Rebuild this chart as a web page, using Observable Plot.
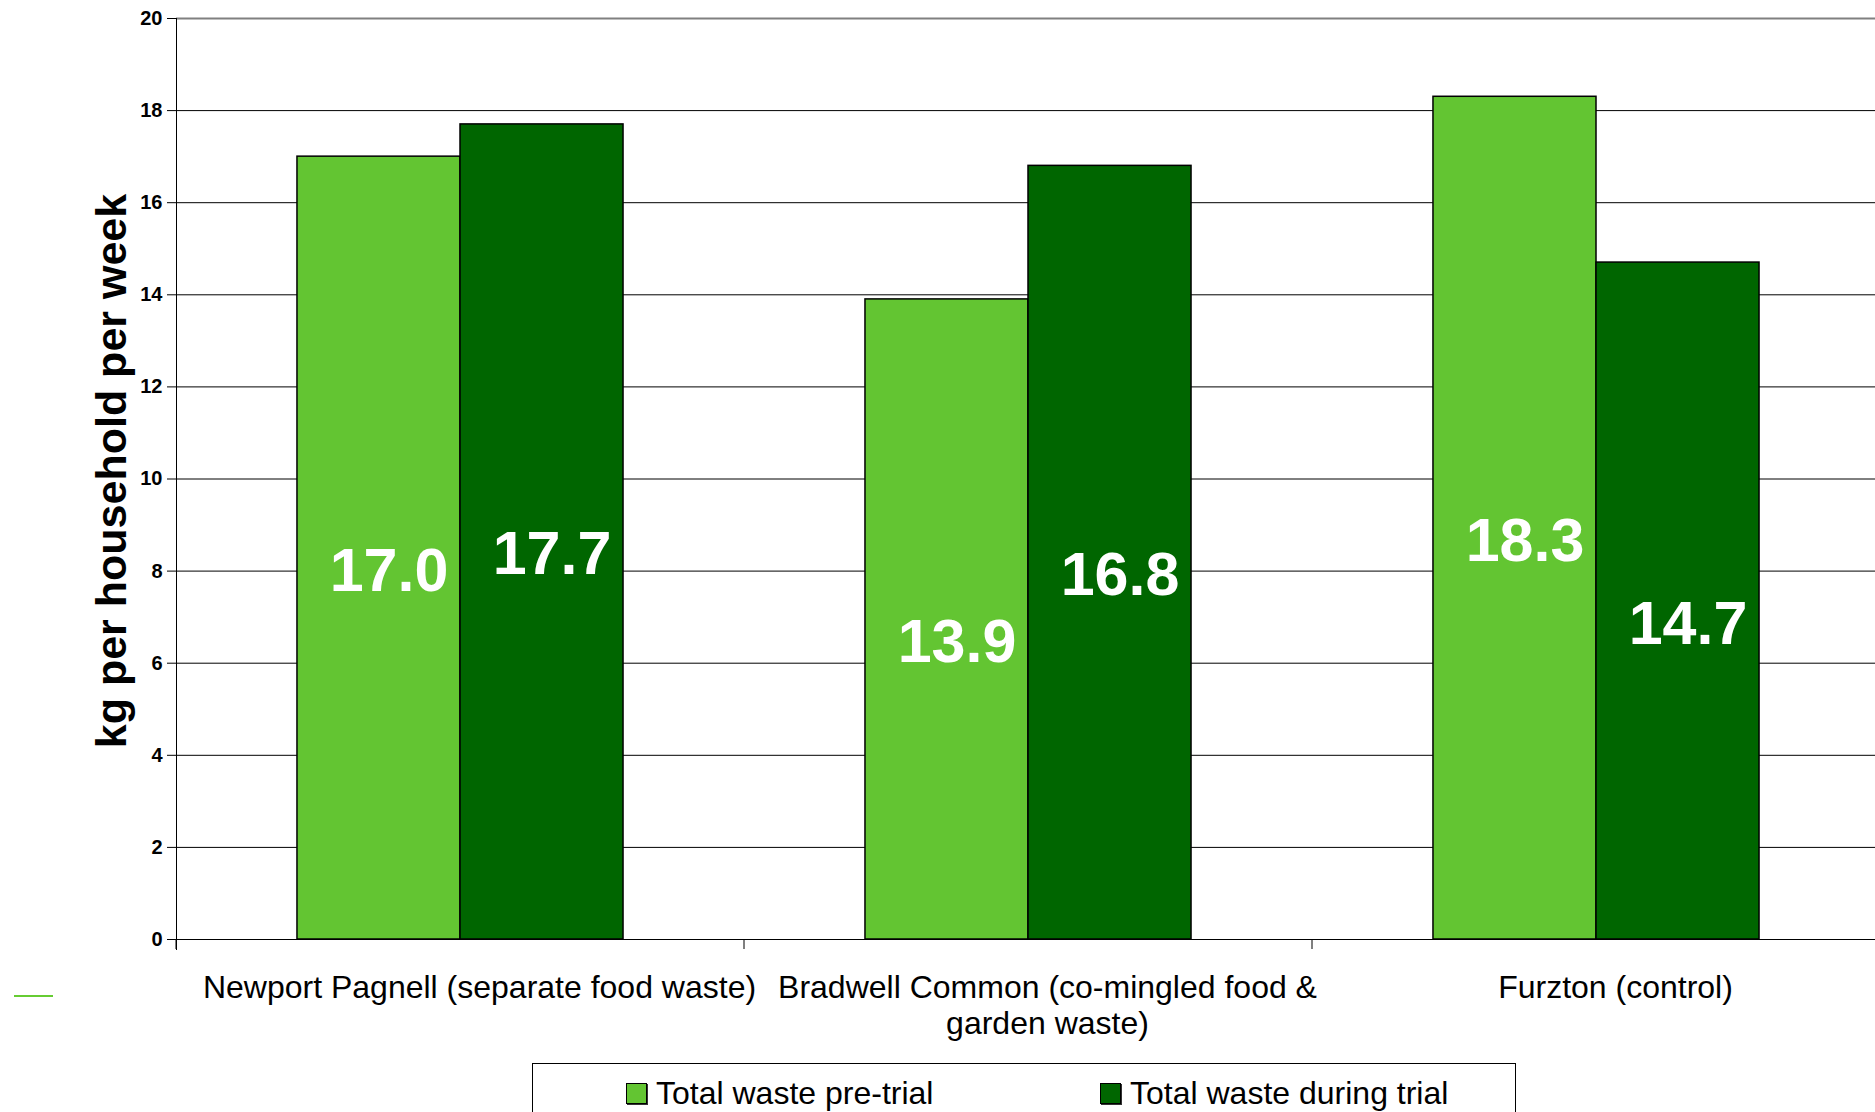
<!DOCTYPE html>
<html><head><meta charset="utf-8">
<script src="https://cdn.jsdelivr.net/npm/d3@7"></script>
<script src="https://cdn.jsdelivr.net/npm/@observablehq/plot@0.6"></script>
<style>
body{margin:0;background:#fff;font-family:"Liberation Sans",Arial,sans-serif;overflow:hidden;width:1875px;height:1112px;position:relative}
#chart{position:absolute;left:0;top:0}
#ytitle{position:absolute;left:111px;top:471px;transform:translate(-50%,-50%) rotate(-90deg);font-size:43px;font-weight:bold;line-height:1;white-space:nowrap;color:#000}
#legend{position:absolute;left:532px;top:1063px;width:984px;height:80px;border:1px solid #000;box-sizing:border-box;background:#fff}
.item{position:absolute;top:17px;display:flex;align-items:center;gap:9px;font-size:32px;line-height:24px;color:#000;white-space:nowrap}
.sw{width:19px;height:19px;border:1px solid #000;box-shadow:1px 1px 0 #333}
#stray{position:absolute;left:14px;top:995px;width:39px;height:2px;background:#66cc33}
</style></head>
<body>
<div id="chart"></div>
<div id="ytitle"></div>
<div id="legend"></div>
<div id="stray"></div>
<script>
const categories = ["Newport Pagnell (separate food waste)", "Bradwell Common (co-mingled food & garden waste)", "Furzton (control)"];
const categoryLabels = ["Newport Pagnell (separate food waste)", "Bradwell Common (co-mingled food &\ngarden waste)", "Furzton (control)"];
const series = ["Total waste pre-trial", "Total waste during trial"];
const preTrial = [17.0, 13.9, 18.3];
const duringTrial = [17.7, 16.8, 14.7];
const yTicks = [0, 2, 4, 6, 8, 10, 12, 14, 16, 18, 20];
const gridTicks = [2, 4, 6, 8, 10, 12, 14, 16, 18];
const yTitle = "kg per household per week";
const colors = ["#63c532", "#006600"];

const data = categories.flatMap((c, i) => [
  {cat: c, series: series[0], value: preTrial[i]},
  {cat: c, series: series[1], value: duringTrial[i]}
]);

const boundaryTicks = (index, scales, values, dims) => {
  const g = d3.create("svg:g");
  const y0 = scales.y(0);
  g.append("line").attr("x1", dims.marginLeft).attr("x2", dims.marginLeft)
    .attr("y1", y0).attr("y2", y0 + 10).attr("stroke", "#000").attr("stroke-width", 1);
  return g.node();
};

const chart = Plot.plot({
  width: 1875, height: 1063,
  marginLeft: 176, marginRight: -5, marginTop: 18, marginBottom: 124,
  style: {fontFamily: '"Liberation Sans", Arial, sans-serif', background: "#fff", color: "#000"},
  fx: {domain: categories, padding: 0, round: false},
  x: {domain: series, paddingInner: 0, paddingOuter: 0.742, round: false, axis: null},
  y: {domain: [0, 20]},
  color: {domain: series, range: colors},
  marks: [
    Plot.gridY(gridTicks, {stroke: "#000", strokeOpacity: 1, strokeWidth: 1}),
    Plot.ruleY([20], {stroke: "#808080", strokeWidth: 2}),
    Plot.barY(data, {fx: "cat", x: "series", y: "value", fill: "series", stroke: "#000", strokeWidth: 1.5}),
    Plot.ruleY([0], {stroke: "#000", strokeWidth: 1}),
    boundaryTicks,
    Plot.frame({anchor: "left", facetAnchor: "left", insetBottom: -10, stroke: "#000"}),
    Plot.axisY(yTicks, {tickSize: 9, tickPadding: 5, fontSize: 20, fontWeight: "bold", label: null, stroke: "#000"}),
    Plot.text(data, {fx: "cat", x: "series", y: d => d.value / 2, text: d => d.value.toFixed(1), fill: "#fff", fontSize: 61, fontWeight: "bold", dx: 10, dy: 23}),
    Plot.axisFx({anchor: "bottom", tickSize: 0, tickPadding: 32, fontSize: 32, lineHeight: 1.15, dx: 19, label: null,
      tickFormat: d => categoryLabels[categories.indexOf(d)]})
  ]
});
document.getElementById("chart").appendChild(chart);
document.getElementById("ytitle").textContent = yTitle;

const legend = d3.select("#legend");
const lefts = [93, 567];
series.forEach((s, i) => {
  const it = legend.append("div").attr("class", "item").style("left", lefts[i] + "px");
  it.append("div").attr("class", "sw").style("background", colors[i]);
  it.append("span").text(s);
});
</script>
</body></html>
